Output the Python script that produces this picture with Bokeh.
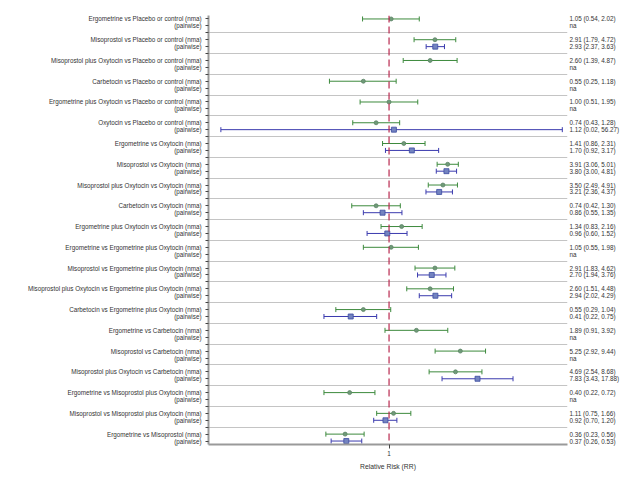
from bokeh.plotting import figure
from bokeh.models import (Range1d, FixedTicker, LinearAxis, Whisker, TeeHead,
                          ColumnDataSource, Span)
from bokeh.embed import file_html
from bokeh.resources import INLINE

comparisons = [
    "Ergometrine vs Placebo or control",
    "Misoprostol vs Placebo or control",
    "Misoprostol plus Oxytocin vs Placebo or control",
    "Carbetocin vs Placebo or control",
    "Ergometrine plus Oxytocin vs Placebo or control",
    "Oxytocin vs Placebo or control",
    "Ergometrine vs Oxytocin",
    "Misoprostol vs Oxytocin",
    "Misoprostol plus Oxytocin vs Oxytocin",
    "Carbetocin vs Oxytocin",
    "Ergometrine plus Oxytocin vs Oxytocin",
    "Ergometrine vs Ergometrine plus Oxytocin",
    "Misoprostol vs Ergometrine plus Oxytocin",
    "Misoprostol plus Oxytocin vs Ergometrine plus Oxytocin",
    "Carbetocin vs Ergometrine plus Oxytocin",
    "Ergometrine vs Carbetocin",
    "Misoprostol vs Carbetocin",
    "Misoprostol plus Oxytocin vs Carbetocin",
    "Ergometrine vs Misoprostol plus Oxytocin",
    "Misoprostol vs Misoprostol plus Oxytocin",
    "Ergometrine vs Misoprostol",
]

nma_rr = [1.05, 2.91, 2.60, 0.55, 1.00, 0.74, 1.41, 3.91, 3.50, 0.74, 1.34,
          1.05, 2.91, 2.60, 0.55, 1.89, 5.25, 4.69, 0.40, 1.11, 0.36]
nma_lo = [0.54, 1.79, 1.39, 0.25, 0.51, 0.43, 0.86, 3.06, 2.49, 0.42, 0.83,
          0.55, 1.83, 1.51, 0.29, 0.91, 2.92, 2.54, 0.22, 0.75, 0.23]
nma_hi = [2.02, 4.72, 4.87, 1.18, 1.95, 1.28, 2.31, 5.01, 4.91, 1.30, 2.16,
          1.98, 4.62, 4.48, 1.04, 3.92, 9.44, 8.68, 0.72, 1.66, 0.56]

pw_rr = [None, 2.93, None, None, None, 1.12, 1.70, 3.80, 3.21, 0.86, 0.96,
         None, 2.70, 2.94, 0.41, None, None, 7.83, None, 0.92, 0.37]
pw_lo = [None, 2.37, None, None, None, 0.02, 0.92, 3.00, 2.36, 0.55, 0.60,
         None, 1.94, 2.02, 0.22, None, None, 3.43, None, 0.70, 0.26]
pw_hi = [None, 3.63, None, None, None, 56.27, 3.17, 4.81, 4.37, 1.35, 1.52,
         None, 3.76, 4.29, 0.75, None, None, 17.88, None, 1.20, 0.53]

FONT = "Liberation Sans"
FS = "6.3px"
TXT = "#333333"
n = len(comparisons)

nma_y = [3 * i for i in range(n)]
pw_y = [3 * i + 1 for i in range(n)]
sep_y = [3 * i + 2 for i in range(n - 1)]

p = figure(width=638, height=474, x_axis_type="log",
           x_range=Range1d(0.0150, 63.5), y_range=Range1d(3 * n - 1.5, -0.5),
           output_backend="svg", toolbar_location=None,
           min_border_left=208, min_border_right=71, min_border_top=15,
           min_border_bottom=30)
p.outline_line_color = None
p.background_fill_color = "white"

# separators via y grid
p.xgrid.visible = False
p.ygrid.ticker = FixedTicker(ticks=sep_y)
p.ygrid.grid_line_color = "#c4c4c4"
p.ygrid.grid_line_width = 1

# reference line at RR = 1
p.add_layout(Span(location=1, dimension="height", line_color="#b8284e",
                  line_width=1.2, line_dash="7 4"))

# nma
nma_src = ColumnDataSource(dict(y=nma_y, rr=nma_rr, lo=nma_lo, hi=nma_hi))
w1 = Whisker(source=nma_src, base="y", lower="lo", upper="hi", dimension="width",
             line_color="#3d8a3d", line_width=1, level="underlay",
             lower_head=TeeHead(size=5, line_color="#3d8a3d", line_width=1),
             upper_head=TeeHead(size=5, line_color="#3d8a3d", line_width=1))
p.add_layout(w1)
p.scatter("rr", "y", source=nma_src, marker="circle", size=4,
          fill_color="#6f9a78", line_color="#5d8466", line_width=0.8)

# pairwise
pw_idx = [i for i in range(n) if pw_rr[i] is not None]
pw_src = ColumnDataSource(dict(y=[pw_y[i] for i in pw_idx],
                               rr=[pw_rr[i] for i in pw_idx],
                               lo=[pw_lo[i] for i in pw_idx],
                               hi=[pw_hi[i] for i in pw_idx]))
w2 = Whisker(source=pw_src, base="y", lower="lo", upper="hi", dimension="width",
             line_color="#3a3aae", line_width=1, level="underlay",
             lower_head=TeeHead(size=5, line_color="#3a3aae", line_width=1),
             upper_head=TeeHead(size=5, line_color="#3a3aae", line_width=1))
p.add_layout(w2)
p.scatter("rr", "y", source=pw_src, marker="square", size=5,
          fill_color="#7383c0", line_color="#3a4aa0", line_width=0.8)

# left axis labels
left_labels = {}
for i in range(n):
    left_labels[nma_y[i]] = comparisons[i] + " (nma)"
    left_labels[pw_y[i]] = "(pairwise)"
for s in sep_y:
    left_labels[s] = ""
ya = p.yaxis[0]
ya.ticker = FixedTicker(ticks=sorted(left_labels.keys()))
ya.major_label_overrides = left_labels
ya.minor_tick_line_color = None
ya.major_tick_in = 0
ya.major_tick_out = 3
ya.major_tick_line_color = "#444444"
ya.axis_line_color = "#9a9a9a"
ya.axis_line_width = 2
ya.major_label_standoff = 4
ya.major_label_text_font = FONT
ya.major_label_text_font_size = FS
ya.major_label_text_color = TXT

# right axis: estimates
def fmt(r, lo, hi):
    if r is None:
        return "na"
    return "%.2f (%.2f, %.2f)" % (r, lo, hi)

right_labels = {}
for i in range(n):
    right_labels[nma_y[i]] = fmt(nma_rr[i], nma_lo[i], nma_hi[i])
    right_labels[pw_y[i]] = fmt(pw_rr[i], pw_lo[i], pw_hi[i])
ra = LinearAxis(ticker=FixedTicker(ticks=sorted(right_labels.keys())),
                major_label_overrides=right_labels)
ra.axis_line_color = None
ra.major_tick_line_color = None
ra.minor_tick_line_color = None
ra.major_tick_in = 0
ra.major_tick_out = 0
ra.major_label_standoff = 2
ra.major_label_text_font = FONT
ra.major_label_text_font_size = FS
ra.major_label_text_color = TXT
p.add_layout(ra, "right")

# bottom axis
xa = p.xaxis[0]
xa.ticker = FixedTicker(ticks=[1])
xa.major_label_overrides = {1: "1"}
xa.minor_tick_line_color = None
xa.major_tick_in = 0
xa.major_tick_out = 4
xa.major_tick_line_color = "#444444"
xa.axis_line_color = "#9a9a9a"
xa.axis_line_width = 2
xa.major_label_standoff = 2
xa.major_label_text_font = FONT
xa.major_label_text_font_size = FS
xa.major_label_text_color = TXT
xa.axis_label = "Relative Risk (RR)"
xa.axis_label_text_font = FONT
xa.axis_label_text_font_size = "6.8px"
xa.axis_label_text_font_style = "normal"
xa.axis_label_text_color = TXT
xa.axis_label_standoff = 4

open("out.html", "w").write(file_html(p, INLINE))
